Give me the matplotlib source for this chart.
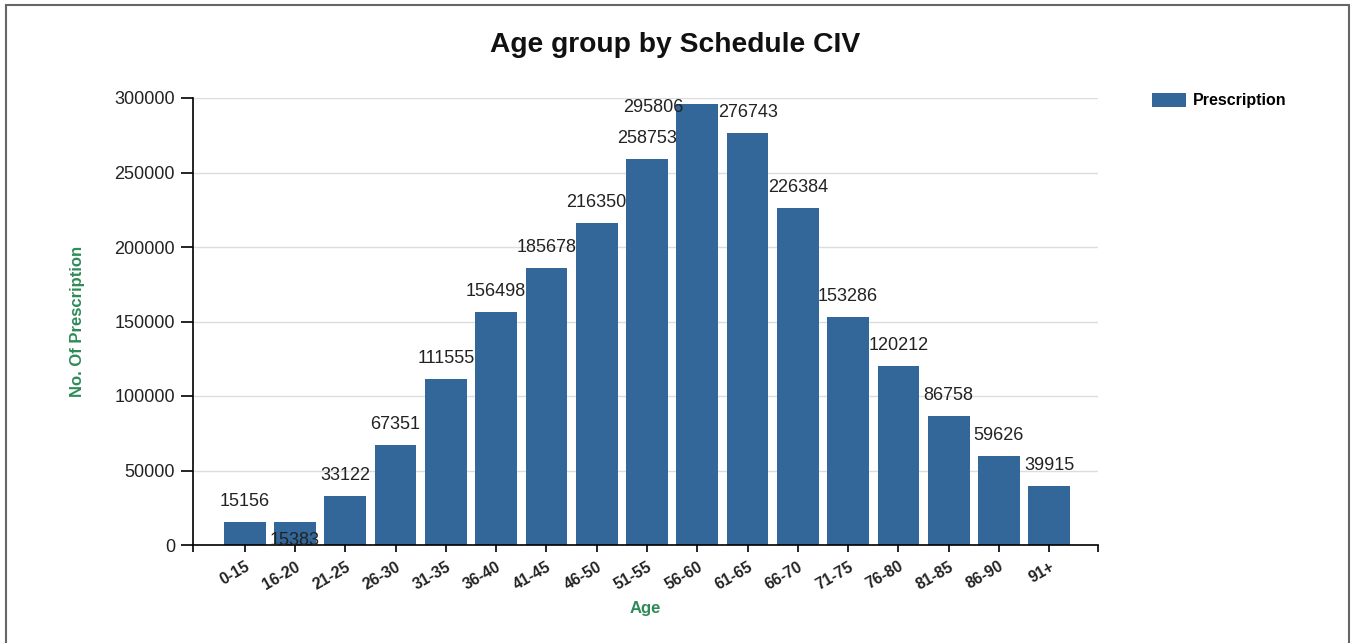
import matplotlib
matplotlib.use("Agg")
import matplotlib.pyplot as plt
from matplotlib.patches import Rectangle

plt.rcParams['font.family'] = ['Liberation Sans', 'DejaVu Sans']

# data
age_groups = ['0-15', '16-20', '21-25', '26-30', '31-35', '36-40', '41-45', '46-50', '51-55',
              '56-60', '61-65', '66-70', '71-75', '76-80', '81-85', '86-90', '91+']
prescriptions = [15156, 15383, 33122, 67351, 111555, 156498, 185678, 216350, 258753,
                 295806, 276743, 226384, 153286, 120212, 86758, 59626, 39915]
y_ticks = [0, 50000, 100000, 150000, 200000, 250000, 300000]

bar_color = '#336699'
green = '#2e8b57'

fig = plt.figure(figsize=(13.51, 6.43), dpi=100)
ax = fig.add_axes([193 / 1351, 98 / 643, 905 / 1351, 447 / 643])

x = list(range(len(age_groups)))
bars = ax.bar(x, prescriptions, width=0.83, color=bar_color, label='Prescription', zorder=2)

# value labels, two of them were nudged in the original
label_shift = {1: (0, -23), 9: (-44, -8)}
for i, v in enumerate(prescriptions):
    dx, dy = label_shift.get(i, (0, 16))
    ax.annotate(str(v), (i, v), xytext=(dx, dy), textcoords='offset pixels',
                ha='center', va='baseline', fontsize=13, color='#222222', zorder=3)

ax.set_xlim(-1.03, 16.97)
ax.set_ylim(0, 300000)
ax.set_yticks(y_ticks)
ax.set_yticklabels([str(t) for t in y_ticks], fontsize=13, color='#222222')
ax.set_xticks(x)
ax.set_xticklabels(age_groups, rotation=30, ha='right', rotation_mode='anchor',
                   fontsize=11.3, fontweight='bold', color='#222222')
ax.set_xticks([-1.03, 16.97], minor=True)
ax.tick_params(axis='y', length=9, width=1.2, pad=4)
ax.tick_params(axis='x', which='both', length=5, width=1.2, pad=5)
ax.grid(axis='y', color='#dddddd', lw=1, zorder=0)

for s in ['top', 'right']:
    ax.spines[s].set_visible(False)
for s in ['left', 'bottom']:
    ax.spines[s].set_linewidth(1.2)

ax.set_xlabel('Age', color=green, fontsize=12, fontweight='bold', labelpad=6)
ax.set_ylabel('No. Of Prescription', color=green, fontsize=12, fontweight='bold', labelpad=21)

fig.text(0.5, 1 - 45 / 643, 'Age group by Schedule CIV', ha='center', va='center',
         fontsize=20.3, fontweight='bold', color='#111111')

ax.legend(loc='center left', bbox_to_anchor=(1152 / 1351, 1 - 100.5 / 643),
          bbox_transform=fig.transFigure, frameon=False, borderpad=0, borderaxespad=0,
          handlelength=2.1, handleheight=0.95, handletextpad=0.45,
          prop={'size': 11.5, 'weight': 'bold'})

# outer frame of the original page
fig.add_artist(Rectangle((6 / 1351, -0.05), 1343 / 1351, 1.05 - 5 / 643,
                         transform=fig.transFigure, fill=False, edgecolor='#666666', lw=1.5))

fig.savefig('out.png', dpi=100)
